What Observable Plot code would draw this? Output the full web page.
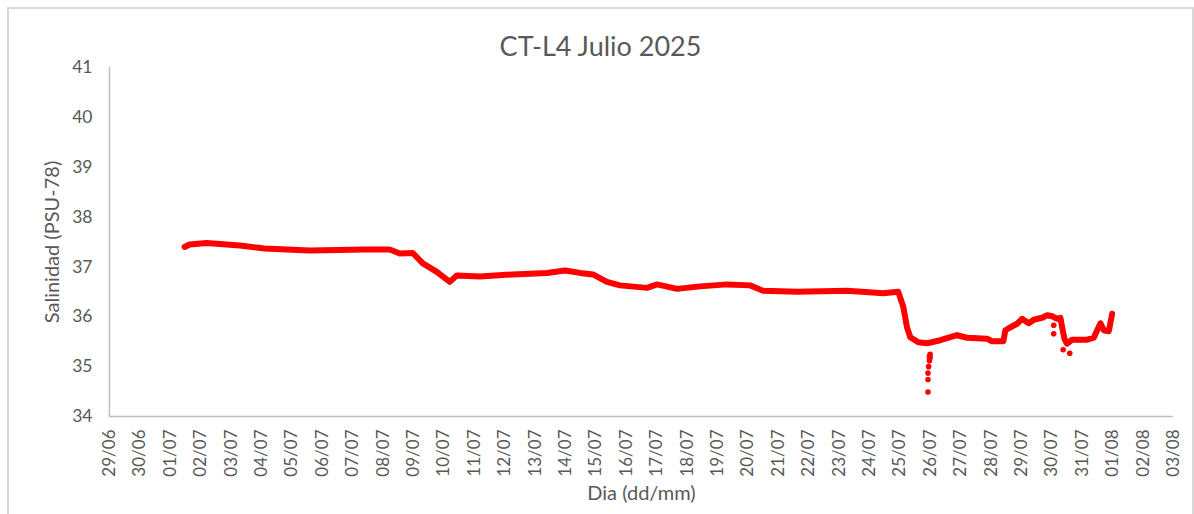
<!DOCTYPE html>
<html><head><meta charset="utf-8">
<script src="https://cdn.jsdelivr.net/npm/d3@7"></script>
<script src="https://cdn.jsdelivr.net/npm/@observablehq/plot@0.6"></script>
<style>
body{margin:0;background:#fff;overflow:hidden;}
#frame{position:absolute;left:7px;top:7px;width:1187px;height:530px;border:2px solid #d9d9d9;box-sizing:border-box;}
#chart{position:absolute;left:0;top:0;}
</style></head><body>
<div id="frame"></div><div id="chart"></div>
<script>
const title = "CT-L4 Julio 2025";
const yLabel = "Salinidad (PSU-78)";
const xLabel = "Dia (dd/mm)";
const xDomain = ["2025-06-29T00:00Z", "2025-08-03T00:00Z"];
const yTicks = [34, 35, 36, 37, 38, 39, 40, 41];

const times = [
  "2025-07-01T11:16Z","2025-07-01T15:13Z","2025-07-02T04:39Z","2025-07-03T06:44Z","2025-07-04T02:29Z",
  "2025-07-05T14:03Z","2025-07-07T09:31Z","2025-07-08T05:16Z","2025-07-08T13:10Z","2025-07-08T23:27Z",
  "2025-07-09T07:21Z","2025-07-09T18:25Z","2025-07-10T04:41Z","2025-07-10T10:13Z","2025-07-11T04:23Z",
  "2025-07-12T06:28Z","2025-07-13T09:20Z","2025-07-13T23:34Z","2025-07-14T11:25Z","2025-07-14T21:41Z",
  "2025-07-15T08:45Z","2025-07-15T19:02Z","2025-07-16T16:22Z","2025-07-17T00:16Z","2025-07-17T16:04Z",
  "2025-07-18T10:15Z","2025-07-19T07:35Z","2025-07-20T01:46Z","2025-07-20T12:02Z","2025-07-21T14:54Z",
  "2025-07-23T06:25Z","2025-07-24T10:52Z","2025-07-24T22:43Z","2025-07-25T02:40Z","2025-07-25T05:35Z",
  "2025-07-25T08:12Z","2025-07-25T14:31Z","2025-07-25T21:38Z","2025-07-26T07:55Z","2025-07-26T21:06Z",
  "2025-07-27T05:00Z","2025-07-27T20:49Z","2025-07-28T00:46Z","2025-07-28T09:41Z","2025-07-28T11:16Z",
  "2025-07-28T15:14Z","2025-07-28T20:31Z","2025-07-29T00:28Z","2025-07-29T05:41Z","2025-07-29T09:38Z",
  "2025-07-29T16:17Z","2025-07-29T20:14Z","2025-07-30T00:11Z","2025-07-30T04:08Z","2025-07-30T06:44Z",
  "2025-07-30T08:05Z","2025-07-30T09:54Z","2025-07-30T12:02Z","2025-07-30T15:59Z","2025-07-31T03:50Z",
  "2025-07-31T09:03Z","2025-07-31T11:44Z","2025-07-31T14:21Z","2025-07-31T16:58Z","2025-07-31T20:55Z",
  "2025-07-31T23:35Z"
];
const salinity = [
  37.40, 37.45, 37.48, 37.43, 37.37,
  37.33, 37.35, 37.35, 37.27, 37.28,
  37.07, 36.90, 36.70, 36.83, 36.81,
  36.85, 36.88, 36.93, 36.88, 36.85,
  36.70, 36.63, 36.58, 36.65, 36.56,
  36.61, 36.65, 36.63, 36.52, 36.50,
  36.52, 36.47, 36.50, 36.20, 35.79,
  35.59, 35.49, 35.47, 35.53, 35.63,
  35.58, 35.56, 35.51, 35.51, 35.73,
  35.79, 35.86, 35.96, 35.87, 35.94,
  35.98, 36.03, 36.01, 35.96, 35.98,
  35.79, 35.56, 35.46, 35.54, 35.54,
  35.58, 35.73, 35.87, 35.73, 35.71,
  36.06
];

const outlierTimes = [
  "2025-07-25T22:10Z","2025-07-25T22:10Z","2025-07-25T22:10Z","2025-07-25T22:40Z",
  "2025-07-25T23:20Z","2025-07-25T23:20Z","2025-07-25T23:50Z","2025-07-25T23:50Z",
  "2025-07-30T01:26Z","2025-07-30T01:26Z","2025-07-30T08:52Z","2025-07-30T14:05Z"
];
const outlierSalinity = [
  34.49, 34.74, 34.87, 35.00,
  35.12, 35.20, 35.25, 35.18,
  35.83, 35.66, 35.34, 35.27
];

const data = times.map((t, i) => ({t: new Date(t), s: salinity[i]}));
const outliers = outlierTimes.map((t, i) => ({t: new Date(t), s: outlierSalinity[i]}));
const xStart = new Date(xDomain[0]), xEnd = new Date(xDomain[1]);
const dayTicks = d3.utcDay.range(xStart, d3.utcDay.offset(xEnd, 1));
const ink = "#595959";
const red = "#ff0000";

const chart = Plot.plot({
  width: 1194, height: 514,
  marginLeft: 109, marginRight: 21, marginTop: 67, marginBottom: 98,
  style: {fontFamily: "Lato", color: ink, background: "transparent"},
  x: {type: "utc", domain: [xStart, xEnd]},
  y: {domain: [34, 41]},
  marks: [
    Plot.axisY({ticks: yTicks, tickFormat: "d", tickSize: 0, tickPadding: 17, fontSize: 17.5, label: null}),
    Plot.axisX({ticks: dayTicks, tickFormat: d3.utcFormat("%d/%m"), tickRotate: -90, tickSize: 0, tickPadding: 13, fontSize: 17, label: null}),
    Plot.ruleX([xStart], {stroke: "#bfbfbf", strokeWidth: 1.5}),
    Plot.ruleY([34], {stroke: "#bfbfbf", strokeWidth: 1.5}),
    Plot.line(data, {x: "t", y: "s", stroke: red, strokeWidth: 6, strokeLinejoin: "round", strokeLinecap: "round"}),
    Plot.dot(outliers, {x: "t", y: "s", r: 2.8, fill: red, stroke: "none"}),
    Plot.text([title], {frameAnchor: "top", lineAnchor: "middle", textAnchor: "middle", dx: -41, dy: -20, fontSize: 27, fill: ink}),
    Plot.text([yLabel], {frameAnchor: "left", lineAnchor: "middle", textAnchor: "middle", dx: -57, rotate: -90, fontSize: 20, fill: ink}),
    Plot.text([xLabel], {frameAnchor: "bottom", lineAnchor: "middle", textAnchor: "middle", dy: 77, fontSize: 20, fill: ink})
  ]
});
document.getElementById("chart").appendChild(chart);
</script>
</body></html>
